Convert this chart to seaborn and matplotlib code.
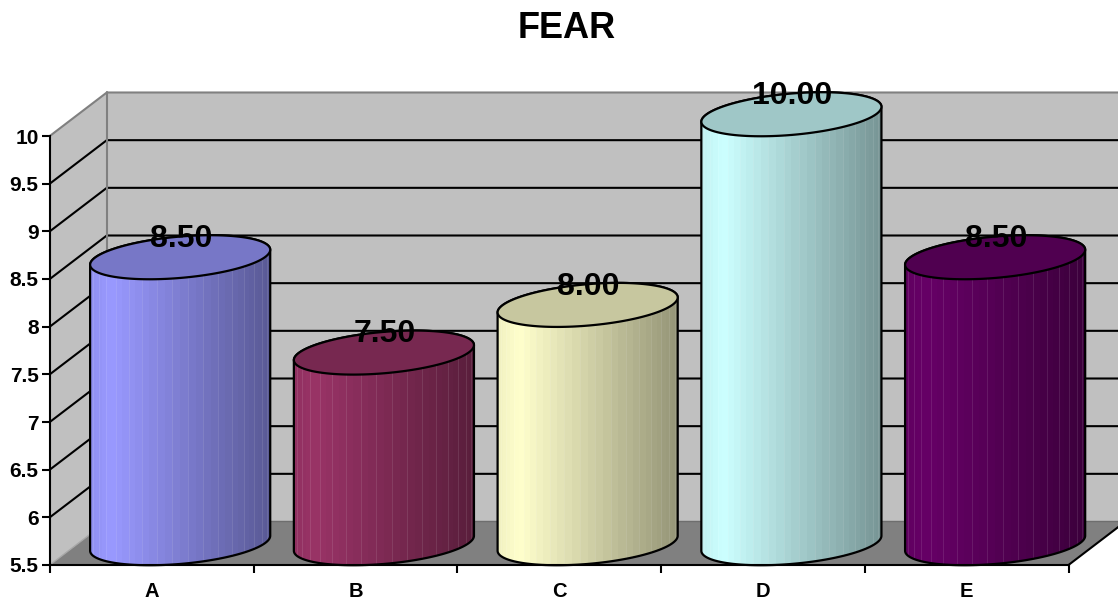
import numpy as np
import matplotlib
matplotlib.use("Agg")
import matplotlib.pyplot as plt
from matplotlib.colors import to_rgb
from matplotlib.patches import Polygon
import seaborn as sns

categories = ["A", "B", "C", "D", "E"]
values = [8.5, 7.5, 8.0, 10.0, 8.5]
colors = ["#9999FF", "#993366", "#FFFFCC", "#CCFFFF", "#660066"]
y_ticks = [5.5, 6, 6.5, 7, 7.5, 8, 8.5, 9, 9.5, 10]
y_labels = ["5.5", "6", "6.5", "7", "7.5", "8", "8.5", "9", "9.5", "10"]

sns.set_theme(style="white")
plt.rcParams["font.family"] = ["Liberation Sans", "DejaVu Sans"]
plt.rcParams["font.weight"] = "bold"

W, H = 1118, 600
AX_L, AX_R, AX_T, AX_B = 49.8, 1068.5, 136.0, 565.0
fig = plt.figure(figsize=(W / 100, H / 100), dpi=100)
ax = fig.add_axes([AX_L / W, (H - AX_B) / H, (AX_R - AX_L) / W, (AX_B - AX_T) / H])
ax.patch.set_visible(False)

sns.barplot(x=categories, y=values, hue=categories, palette=colors, width=0.884,
            legend=False, ax=ax, saturation=1)

XMIN, XMAX, YMIN, YMAX = -0.5, 4.5, 5.5, 10.0
PX_X = (AX_R - AX_L) / 5
PX_Y = (AX_B - AX_T) / 4.5
DX, DY = 57 / PX_X, 43.5 / PX_Y
WALL, FLOOR, EDGE = "#C0C0C0", "#808080", "#808080"
LW = 1.5

# walls and floor
ax.add_patch(Polygon([(XMIN, YMIN), (XMIN + DX, YMIN + DY), (XMIN + DX, YMAX + DY), (XMIN, YMAX)],
                     closed=True, fc=WALL, ec="none", zorder=0.5, clip_on=False))
ax.add_patch(Polygon([(XMIN + DX, YMIN + DY), (XMAX + DX, YMIN + DY), (XMAX + DX, YMAX + DY), (XMIN + DX, YMAX + DY)],
                     closed=True, fc=WALL, ec="none", zorder=0.5, clip_on=False))
for yv in y_ticks[1:-1]:
    ax.plot([XMIN, XMIN + DX, XMAX + DX], [yv, yv + DY, yv + DY], color="black", lw=LW,
            zorder=0.7, clip_on=False, solid_joinstyle="miter")
ax.plot([XMIN, XMIN + DX, XMAX + DX], [YMAX, YMAX + DY, YMAX + DY], color=EDGE, lw=LW,
        zorder=0.7, clip_on=False, solid_joinstyle="miter")
ax.plot([XMIN + DX, XMIN + DX], [YMIN + DY, YMAX + DY], color=EDGE, lw=LW, zorder=0.8, clip_on=False)
ax.add_patch(Polygon([(XMIN, YMIN), (XMIN + DX, YMIN + DY), (XMAX + DX, YMIN + DY), (XMAX, YMIN)],
                     closed=True, fc=FLOOR, ec="none", zorder=0.9, clip_on=False))
ax.plot([XMIN + DX, XMAX + DX], [YMIN + DY, YMIN + DY], color="#6E6E6E", lw=1.0, zorder=0.95, clip_on=False)
ax.plot([XMIN, XMIN + DX], [YMIN, YMIN + DY], color="#A8A8A8", lw=1.0, zorder=0.95, clip_on=False)
ax.plot([XMAX, XMAX + DX], [YMIN, YMIN + DY], color="black", lw=LW, zorder=0.95, clip_on=False)

# cylinders built on the bars seaborn laid out
MID_X, MID_Y = DX / 2, DY / 2
B_Y, K_Y = 20.7 / PX_Y, 7.5 / PX_Y
theta = np.linspace(0, 2 * np.pi, 181)
edges = (1 - np.cos(np.linspace(0, np.pi, 37))) / 2
mids = (edges[:-1] + edges[1:]) / 2
shade = np.interp(mids, [0, 0.12, 1], [0.94, 1.0, 0.58])


def ellipse(cx, cy, half, t):
    return cx + half * np.cos(t), cy + B_Y * np.sin(t) + K_Y * np.cos(t)


bars = [c[0] for c in ax.containers]
for bar, v, col in zip(bars, values, colors):
    bar.set_visible(False)
    half = bar.get_width() / 2
    cx = bar.get_x() + half + MID_X
    top = bar.get_height() + MID_Y
    base = YMIN + MID_Y
    rgb = np.array(to_rgb(col))

    xb, yb = ellipse(cx, base, half, np.linspace(np.pi, 2 * np.pi, 91))
    xt, yt = ellipse(cx, top, half, np.linspace(0, np.pi, 91))
    outline = np.column_stack([np.r_[xb, xt], np.r_[yb, yt]])
    body = Polygon(outline, closed=True, fc=rgb, ec="none", zorder=2, clip_on=False)
    ax.add_patch(body)
    xedges = cx - half + 2 * half * edges
    C = (rgb[None, :] * shade[:, None])[None, :, :]
    mesh = ax.pcolormesh(xedges, [base - 0.4, top + 0.4], C, zorder=2.1, antialiased=False)
    mesh.set_clip_box(None)
    mesh.set_clip_path(body)
    seps = ax.vlines(xedges[1:-1:2], base - 0.4, top + 0.4, color="white", alpha=0.10, lw=0.8, zorder=2.2)
    seps.set_clip_box(None)
    seps.set_clip_path(body)
    ax.add_patch(Polygon(outline, closed=True, fc="none", ec="black", lw=1.6, zorder=2.4, clip_on=False))
    ex, ey = ellipse(cx, top, half, theta)
    ax.add_patch(Polygon(np.column_stack([ex, ey]), closed=True, fc=rgb * 0.78, ec="black",
                         lw=1.6, zorder=2.5, clip_on=False))
    ax.text(cx + 0.003, bar.get_height() + 0.42, f"{v:.2f}", ha="center", va="center", fontsize=23,
            fontweight="bold", color="black", zorder=3, clip_on=False)

ax.set_xlim(XMIN, XMAX)
ax.set_ylim(YMIN, YMAX)
ax.set_xlabel("")
ax.set_ylabel("")
ax.set_yticks(y_ticks)
ax.set_yticklabels(y_labels, fontsize=15, fontweight="bold", color="black")
ax.set_xticks(range(5))
ax.set_xticklabels(categories, fontsize=14.5, fontweight="bold", color="black")
ax.set_xticks(np.arange(XMIN, XMAX + 1), minor=True)
ax.tick_params(axis="x", which="major", length=0, pad=12)
ax.tick_params(axis="x", which="minor", length=6, width=LW, color="black", bottom=True)
ax.tick_params(axis="y", which="major", length=6, width=LW, color="black", left=True, pad=2)
for side in ("top", "right"):
    ax.spines[side].set_visible(False)
for side in ("left", "bottom"):
    ax.spines[side].set_color("black")
    ax.spines[side].set_linewidth(LW)
    ax.spines[side].set_zorder(2.3)
ax.grid(False)

fig.text(567 / W, 1 - 28.5 / H, "FEAR", ha="center", va="center", fontsize=26, fontweight="bold", color="black")
fig.savefig("out.png", dpi=100)
